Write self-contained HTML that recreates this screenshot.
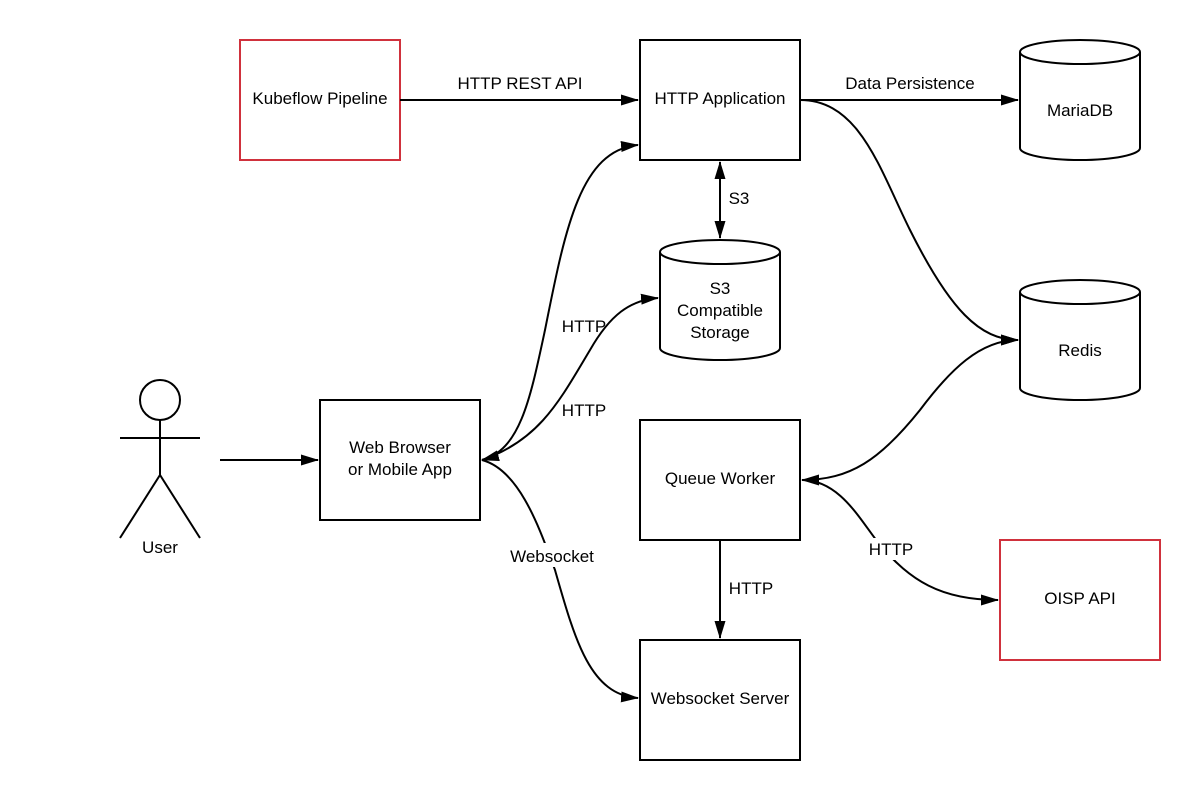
<!DOCTYPE html>
<html><head><meta charset="utf-8"><style>
html,body{margin:0;padding:0;background:#fff;}
svg{display:block;}
text{font-family:"Liberation Sans",sans-serif;font-size:17px;fill:#000;}
</style></head><body>
<svg width="1200" height="800" viewBox="0 0 1200 800" xmlns="http://www.w3.org/2000/svg">
<defs>
<marker id="a" viewBox="0 0 18 11" refX="17" refY="5.5" markerWidth="18" markerHeight="11" markerUnits="userSpaceOnUse" orient="auto-start-reverse">
<path d="M0,0 L18,5.5 L0,11 z" fill="#000"/>
</marker>
</defs>
<g fill="none" stroke="#000" stroke-width="2">
<rect x="240" y="40" width="160" height="120" stroke="#d0313d"/>
<rect x="640" y="40" width="160" height="120"/>
<rect x="320" y="400" width="160" height="120"/>
<rect x="640" y="420" width="160" height="120"/>
<rect x="640" y="640" width="160" height="120"/>
<rect x="1000" y="540" width="160" height="120" stroke="#d0313d"/>
<path d="M1020,52 L1020,148 A60,12 0 0 0 1140,148 L1140,52"/><ellipse cx="1080" cy="52" rx="60" ry="12"/>
<path d="M660,252 L660,348 A60,12 0 0 0 780,348 L780,252"/><ellipse cx="720" cy="252" rx="60" ry="12"/>
<path d="M1020,292 L1020,388 A60,12 0 0 0 1140,388 L1140,292"/><ellipse cx="1080" cy="292" rx="60" ry="12"/>
<circle cx="160" cy="400" r="20"/>
<path d="M160,420 L160,475 M120,438 L200,438 M120,538 L160,475 L200,538"/>
<path d="M220,460 L318,460" marker-end="url(#a)"/>
<path d="M400,100 L638,100" marker-end="url(#a)"/>
<path d="M800,100 L1018,100" marker-end="url(#a)"/>
<path d="M720,162 L720,238" marker-start="url(#a)" marker-end="url(#a)"/>
<path d="M800,100 C860,100 880,170 910,230 C950,310 980,340 1018,340" marker-end="url(#a)"/>
<path d="M482,460 C520,450 530,400 545,330 C565,230 580,150 638,145" marker-start="url(#a)" marker-end="url(#a)"/>
<path d="M482,460 C540,440 560,400 590,350 C610,315 630,300 658,298" marker-end="url(#a)"/>
<path d="M482,460 C520,470 540,530 555,570 C575,640 590,695 638,698" marker-end="url(#a)"/>
<path d="M1018,340 C980,340 950,370 920,410 C880,460 850,480 802,480" marker-start="url(#a)" marker-end="url(#a)"/>
<path d="M720,540 L720,638" marker-end="url(#a)"/>
<path d="M802,480 C840,480 860,520 880,545 C910,580 940,600 998,600" marker-end="url(#a)"/>
</g>
<rect x="501" y="543" width="102" height="24" fill="#fff"/>
<rect x="865" y="538" width="52" height="22" fill="#fff"/>
<g text-anchor="middle">
<text x="320" y="104">Kubeflow Pipeline</text>
<text x="720" y="104">HTTP Application</text>
<text x="1080" y="116">MariaDB</text>
<text x="720" y="294">S3</text>
<text x="720" y="316">Compatible</text>
<text x="720" y="338">Storage</text>
<text x="1080" y="356">Redis</text>
<text x="400" y="453">Web Browser</text>
<text x="400" y="475">or Mobile App</text>
<text x="720" y="484">Queue Worker</text>
<text x="720" y="704">Websocket Server</text>
<text x="1080" y="604">OISP API</text>
<text x="160" y="553">User</text>
<text x="520" y="89">HTTP REST API</text>
<text x="910" y="89">Data Persistence</text>
<text x="739" y="204">S3</text>
<text x="584" y="332">HTTP</text>
<text x="584" y="416">HTTP</text>
<text x="552" y="562">Websocket</text>
<text x="751" y="594">HTTP</text>
<text x="891" y="555">HTTP</text>
</g>
</svg>
</body></html>
